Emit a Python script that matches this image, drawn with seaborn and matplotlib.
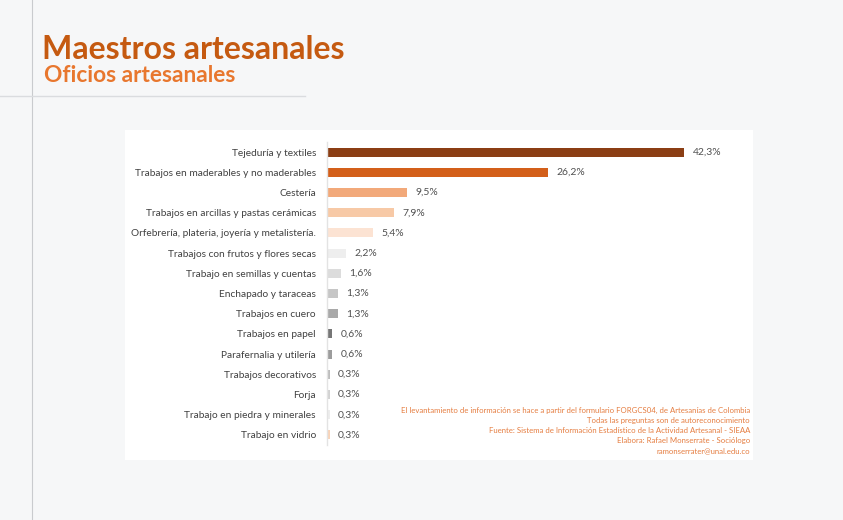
import matplotlib.pyplot as plt
import matplotlib.patches as mpatches
from matplotlib.lines import Line2D
import seaborn as sns
import pandas as pd

# --- datos ---
oficios = [
    'Tejeduría y textiles',
    'Trabajos en maderables y no maderables',
    'Cestería',
    'Trabajos en arcillas y pastas cerámicas',
    'Orfebrería, plateria, joyería y metalistería.',
    'Trabajos con frutos y flores secas',
    'Trabajo en semillas y cuentas',
    'Enchapado y taraceas',
    'Trabajos en cuero',
    'Trabajos en papel',
    'Parafernalia y utilería',
    'Trabajos decorativos',
    'Forja',
    'Trabajo en piedra y minerales',
    'Trabajo en vidrio',
]
porcentajes = [42.3, 26.2, 9.5, 7.9, 5.4, 2.2, 1.6, 1.3, 1.3, 0.6, 0.6, 0.3, 0.3, 0.3, 0.3]
colores = ['#8B3E14', '#D35F1A', '#F2A97A', '#F7C9A6', '#FCE3D3', '#EEEEEE', '#DCDCDC',
           '#C6C6C6', '#A9A9A9', '#767676', '#9C9C9C', '#BDBDBD', '#D2D2D2', '#EDEDED', '#F9D3B8']
notas = [
    'El levantamiento de información se hace a partir del formulario FORGCS04, de Artesanías de Colombia',
    'Todas las preguntas son de autoreconocimiento',
    'Fuente: Sistema de Información Estadístico de la Actividad Artesanal - SIEAA',
    'Elabora: Rafael Monserrate - Sociólogo',
    'ramonserrater@unal.edu.co',
]

df = pd.DataFrame({'oficio': oficios, 'pct': porcentajes})

W, H = 843, 520
fig = plt.figure(figsize=(W / 100, H / 100), dpi=100)
fig.patch.set_facecolor('#F6F7F8')

# lineas decorativas del fondo
fig.add_artist(Line2D([32 / W, 32 / W], [0, 1], color='#C9CBCE', lw=0.8))
fig.add_artist(Line2D([0, 305 / W], [1 - 96 / H, 1 - 96 / H], color='#DADCDF', lw=1.0))

# panel blanco
fig.add_artist(mpatches.Rectangle((125 / W, 1 - 460 / H), (753 - 125) / W, (460 - 130) / H,
                                  transform=fig.transFigure, facecolor='white',
                                  edgecolor='none', zorder=0))

# titulos
fig.text(42 / W, 1 - 59 / H, 'Maestros artesanales', fontsize=23, color='#C55A11',
         family='Lato', weight='bold', va='baseline')
fig.text(44 / W, 1 - 82 / H, 'Oficios artesanales', fontsize=16.3, color='#E8772E',
         family='Lato', weight='bold', va='baseline')

# --- grafico ---
x0, x1 = 327, 327 + 50 * 8.44
y_top, y_bot = 142, 445
ax = fig.add_axes([x0 / W, 1 - y_bot / H, (x1 - x0) / W, (y_bot - y_top) / H])
ax.set_facecolor('none')

sns.barplot(data=df, x='pct', y='oficio', hue='oficio', palette=colores, legend=False,
            orient='h', width=0.45, saturation=1, ax=ax)

ax.set_xlim(0, 50)
ax.set_ylim(len(oficios) - 0.5, -0.5)
ax.set_xlabel('')
ax.set_ylabel('')
ax.set_xticks([])
for s in ['top', 'right', 'bottom']:
    ax.spines[s].set_visible(False)
ax.spines['left'].set_color('#E3E3E3')
ax.spines['left'].set_linewidth(1.0)
ax.tick_params(axis='y', length=0, pad=8, labelsize=7.3, labelcolor='#404040')
for lab in ax.get_yticklabels():
    lab.set_family('Lato')

for i, v in enumerate(porcentajes):
    ax.text(v + 1.0, i, f'{v:.1f}%'.replace('.', ','), va='center', ha='left',
            fontsize=7.5, color='#505050', family='Lato')

# notas de fuente
for k, t in enumerate(notas):
    fig.text(750 / W, 1 - (410 + k * 10.2) / H, t, ha='right', va='center',
             fontsize=5.6, color='#E57C3F', family='Lato')

fig.savefig('out.png', dpi=100, facecolor=fig.get_facecolor())
